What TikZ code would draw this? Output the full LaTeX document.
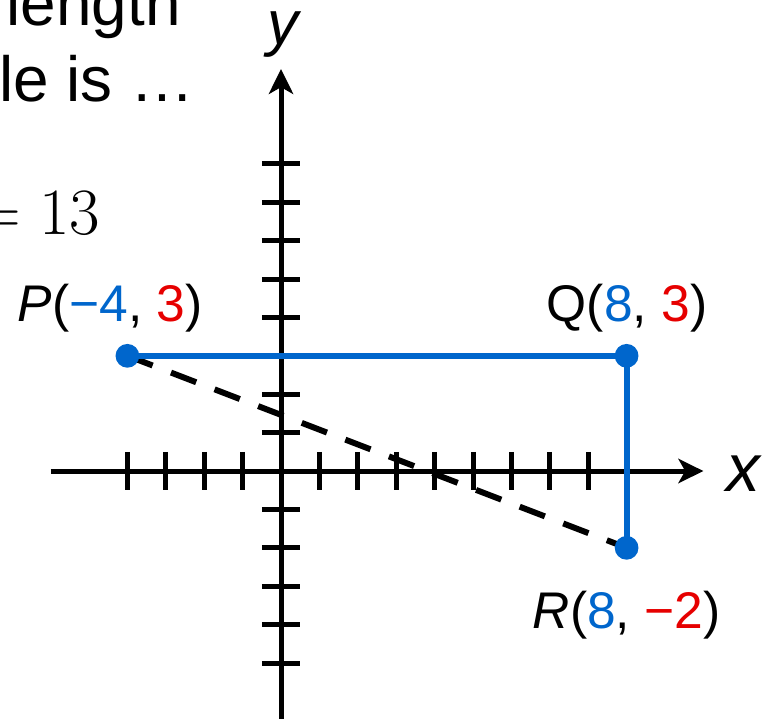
\RequirePackage{fix-cm}
\documentclass[tikz,border=0pt]{standalone}
\usepackage{fontspec}
\setmainfont{Liberation Sans}
\usetikzlibrary{arrows.meta, positioning}
\definecolor{ptblue}{RGB}{0,102,204}
\definecolor{ptred}{RGB}{230,0,0}

\begin{document}
\begin{tikzpicture}[
    >={Stealth[length=18.5pt, width=18pt, inset=5pt]}, % Set default arrow tip style
    axis/.style={->, line width=3.7pt}, % Style for axes
    tick/.style={line width=3.7pt}, % Style for ticks
    side/.style={ptblue, line width=4.3pt}, % Style for the two legs
    hyp/.style={line width=4.4pt, dash pattern=on 20pt off 14.6pt}, % Style for the hypotenuse
    blue_dot/.style={fill=ptblue, circle, inner sep=0pt, minimum size=17.6pt}, % Style for vertex dots
    labelstyle/.style={font=\fontsize{38.2}{45}\selectfont, inner sep=0pt}, % Style for vertex labels
    axislabel/.style={font=\fontsize{#1}{55}\selectfont\itshape, inner sep=0pt}, % Style for x and y
    bigtext/.style={font=\fontsize{47.3}{56}\selectfont, inner sep=0pt} % Style for the question text
]
    % Fix the frame of the picture
    \useasboundingbox (-7.318, -6.458) rectangle (12.708, 12.266);
    \clip (-7.318, -6.458) rectangle (12.708, 12.266);

    % --- Question text (cut off at the frame) ---
    \node[bigtext, anchor=base west] (qline1) at (-7.15, 11.61) {length};
    \node[bigtext, anchor=base west] (qline2) at (-7.34, 9.62) {le is …};
    \node[bigtext, anchor=base east] (answer) at (-4.71, 6.15) {\fontsize{49}{58}\selectfont$=13$};

    % --- Axes ---
    \coordinate (xl) at (-6, 0);
    \coordinate (xr) at (11, 0);
    \coordinate (yb) at (0, -7);
    \coordinate (yt) at (0, 10.47);
    \draw[axis] (xl) -- (xr);
    \draw[axis] (yb) -- (yt);
    \node[axislabel=50] (xlab) at (12.03, -0.08) {x};
    \node[axislabel=46] (ylab) at (0.04, 11.37) {y};

    % Ticks
    \foreach \i in {-4,...,-1,1,2,...,9}
        \draw[tick] (\i, 0.5) -- (\i, -0.5);
    \foreach \j in {-5,...,-1,1,2,...,8}
        \draw[tick] (-0.5, \j) -- (0.5, \j);

    % --- Triangle ---
    \coordinate (P) at (-4, 3);
    \coordinate (Q) at (9, 3);
    \coordinate (R) at (9, -2);

    \draw[hyp] (P) -- (R);
    \draw[side] (P) -- (Q) -- (R);

    \node[blue_dot] (Pdot) at (P) {};
    \node[blue_dot] (Qdot) at (Q) {};
    \node[blue_dot] (Rdot) at (R) {};

    % Labels for P, Q, R
    \node[labelstyle, anchor=base] (Plab) at ([xshift=-0.45cm, yshift=0.89cm]P)
        {\textit{P}(\textcolor{ptblue}{−4}, \textcolor{ptred}{3})};
    \node[labelstyle, anchor=base] (Qlab) at ([xshift=0.01cm, yshift=0.89cm]Q)
        {Q(\textcolor{ptblue}{8}, \textcolor{ptred}{3})};
    \node[labelstyle, anchor=base] (Rlab) at ([yshift=-2.1cm]R)
        {\textit{R}(\textcolor{ptblue}{8}, \textcolor{ptred}{−2})};

\end{tikzpicture}
\end{document}
